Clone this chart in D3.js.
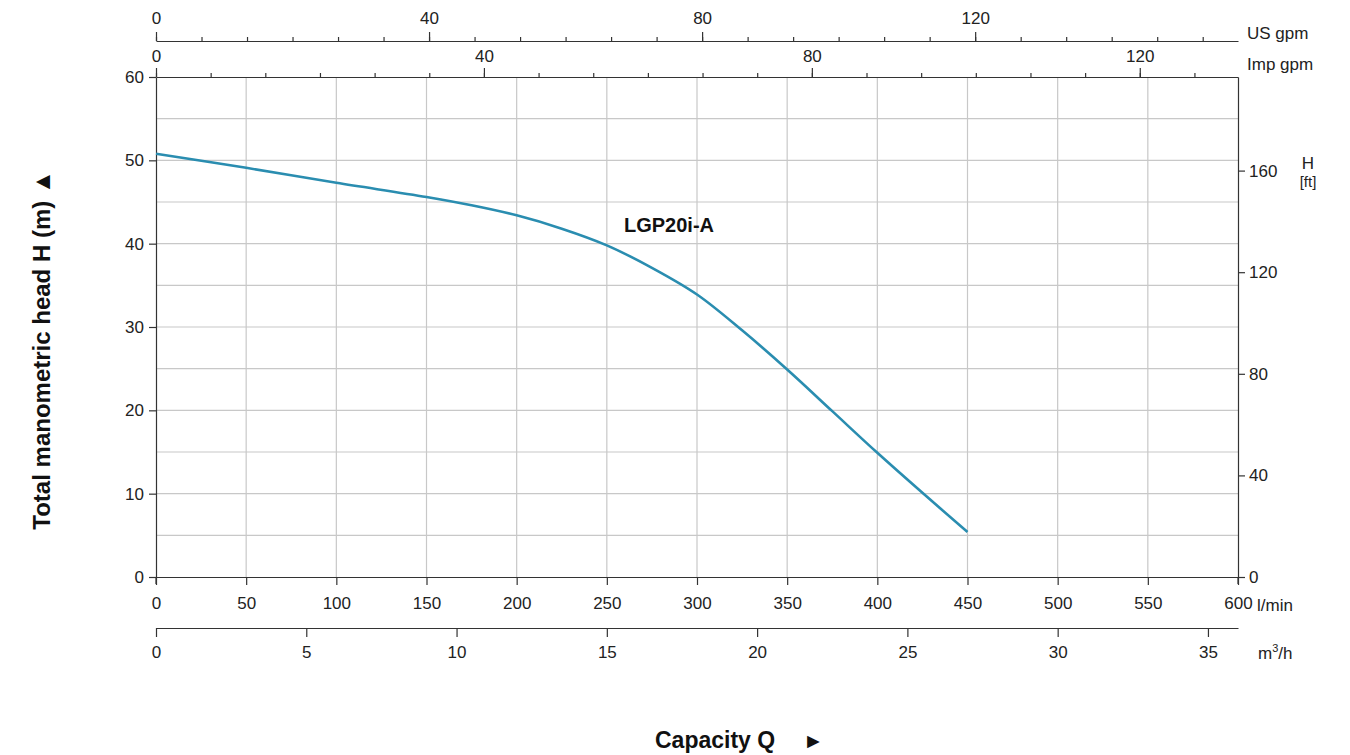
<!DOCTYPE html>
<html><head><meta charset="utf-8">
<script src="https://cdn.jsdelivr.net/npm/d3@7"></script>
<style>
body{margin:0;background:#fff;}
svg{display:block;font-family:"Liberation Sans",Arial,sans-serif;}
.axis text{font-size:17px;fill:#222;font-family:"Liberation Sans",Arial,sans-serif;}
.axis path,.axis line{stroke:#333;stroke-width:1.2;}
</style></head>
<body>
<script>
// ---- data ----
const flowLmin = [0, 50, 100, 150, 175, 200, 225, 250, 275, 300, 325, 350, 375, 400, 425, 450];
const headM    = [50.8, 49.1, 47.3, 45.6, 44.6, 43.4, 41.8, 39.8, 37.1, 33.9, 29.6, 24.9, 19.9, 14.9, 10.1, 5.4];
const seriesName = "LGP20i-A";
const lminTicks = [0, 50, 100, 150, 200, 250, 300, 350, 400, 450, 500, 550, 600];
const m3hTicks = [0, 5, 10, 15, 20, 25, 30, 35];
const headTicks = [0, 10, 20, 30, 40, 50, 60];
const ftTicks = [0, 40, 80, 120, 160];
const usGpmTicks = [0, 40, 80, 120];
const impGpmTicks = [0, 40, 80, 120];

const W = 1350, H = 755;
const svg = d3.select("body").append("svg").attr("width", W).attr("height", H);

const L = 156, R = 1238, T = 77, B = 577;
const x = d3.scaleLinear().domain([0, 600]).range([L, R]);
const y = d3.scaleLinear().domain([0, 60]).range([B, T]);
const xUS = d3.scaleLinear().domain([0, 600 / 3.78541]).range([L, R]);
const xImp = d3.scaleLinear().domain([0, 600 / 4.54609]).range([L, R]);
const xM3 = d3.scaleLinear().domain([0, 36]).range([L, R]);
const yFt = d3.scaleLinear().domain([0, 60 * 3.28084]).range([B, T]);

// grid
const g = svg.append("g");
g.selectAll(".vg").data(d3.range(50, 600, 50)).join("line")
  .attr("x1", d => x(d)).attr("x2", d => x(d)).attr("y1", T).attr("y2", B)
  .attr("stroke", "#c8c8c8").attr("stroke-width", 1.2);
g.selectAll(".hg").data(d3.range(5, 60, 5)).join("line")
  .attr("x1", L).attr("x2", R).attr("y1", d => y(d)).attr("y2", d => y(d))
  .attr("stroke", "#c8c8c8").attr("stroke-width", 1.2);

function minor(step, max) { return d3.range(0, max + 0.001, step); }

// US gpm axis
const usY = 41;
svg.append("g").attr("class", "axis").attr("transform", `translate(0,${usY})`)
  .call(d3.axisTop(xUS).tickValues(minor(20/3, 600/3.78541)).tickSize(4).tickSizeOuter(0).tickFormat(""));
svg.append("g").attr("class", "axis").attr("transform", `translate(0,${usY})`)
  .call(d3.axisTop(xUS).tickValues(usGpmTicks).tickSize(9).tickSizeOuter(0).tickPadding(8))
  .call(a => a.select(".domain").remove());
svg.append("text").attr("x", 1247).attr("y", 39).attr("font-size", 17).attr("fill", "#222").text("US gpm");

// Imp gpm axis (on plot top)
svg.append("g").attr("class", "axis").attr("transform", `translate(0,${T})`)
  .call(d3.axisTop(xImp).tickValues(minor(20/3, 600/4.54609)).tickSize(4).tickSizeOuter(0).tickFormat(""));
svg.append("g").attr("class", "axis").attr("transform", `translate(0,${T})`)
  .call(d3.axisTop(xImp).tickValues(impGpmTicks).tickSize(9).tickSizeOuter(0).tickPadding(6))
  .call(a => a.select(".domain").remove());
svg.append("text").attr("x", 1247).attr("y", 70).attr("font-size", 17).attr("fill", "#222").text("Imp gpm");

// left axis
svg.append("g").attr("class", "axis").attr("transform", `translate(${L},0)`)
  .call(d3.axisLeft(y).tickValues(headTicks).tickSize(7).tickSizeOuter(0).tickPadding(5));
svg.append("line").attr("x1", L).attr("x2", L).attr("y1", B).attr("y2", B + 7).attr("stroke", "#333").attr("stroke-width", 1.2);

// right axis ft
svg.append("g").attr("class", "axis").attr("transform", `translate(${R},0)`)
  .call(d3.axisRight(yFt).tickValues(ftTicks).tickSize(7).tickSizeOuter(0).tickPadding(4));
svg.append("line").attr("x1", R).attr("x2", R).attr("y1", B).attr("y2", B + 7).attr("stroke", "#333").attr("stroke-width", 1.2);
svg.append("text").attr("x", 1308).attr("y", 169).attr("text-anchor", "middle").attr("font-size", 17).attr("fill", "#222").text("H");
svg.append("text").attr("x", 1308).attr("y", 187).attr("text-anchor", "middle").attr("font-size", 15).attr("fill", "#222").text("[ft]");

// bottom l/min axis
svg.append("g").attr("class", "axis").attr("transform", `translate(0,${B})`)
  .call(d3.axisBottom(x).tickValues(lminTicks).tickSize(8).tickSizeOuter(0).tickPadding(12));
svg.append("text").attr("x", 1257).attr("y", 611).attr("font-size", 17).attr("fill", "#222").text("l/min");

// m3/h axis
const m3Y = 628;
svg.append("g").attr("class", "axis").attr("transform", `translate(0,${m3Y})`)
  .call(d3.axisBottom(xM3).tickValues(m3hTicks).tickSize(9).tickSizeOuter(0).tickPadding(9));
const m3t = svg.append("text").attr("x", 1258).attr("y", 659).attr("font-size", 17).attr("fill", "#222");
m3t.append("tspan").text("m");
m3t.append("tspan").attr("font-size", 11).attr("dy", -7).text("3");
m3t.append("tspan").attr("dy", 7).text("/h");

// curve
const line = d3.line().x((d, i) => x(flowLmin[i])).y(d => y(d)).curve(d3.curveCatmullRom.alpha(0.5));
svg.append("path").datum(headM).attr("d", line)
  .attr("fill", "none").attr("stroke", "#2a8db0").attr("stroke-width", 2.6);

svg.append("text").attr("x", 624).attr("y", 232).attr("font-size", 20).attr("font-weight", "bold").attr("fill", "#111").text(seriesName);

// titles
svg.append("text").attr("transform", "translate(50,350) rotate(-90)").attr("text-anchor", "middle")
  .attr("font-size", 24).attr("font-weight", "bold").attr("fill", "#111").text("Total manometric head H (m)  \u25B2");
svg.append("text").attr("x", 655).attr("y", 748)
  .attr("font-size", 23).attr("font-weight", "bold").attr("fill", "#111").text("Capacity Q");
svg.append("text").attr("x", 803).attr("y", 748)
  .attr("font-size", 21).attr("font-weight", "bold").attr("fill", "#111").text("\u25BA");
</script>
</body></html>
